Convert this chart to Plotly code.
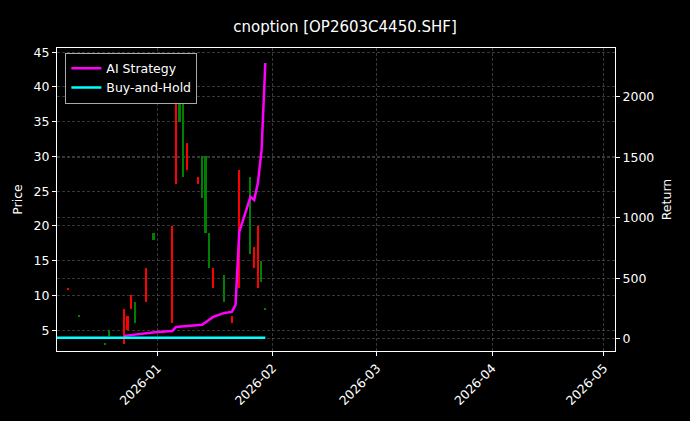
import plotly.graph_objects as go

# Price candles (low/high ranges)
candle_dates = ["2025-12-08","2025-12-11","2025-12-18","2025-12-19","2025-12-23","2025-12-24","2025-12-25",
                "2025-12-26","2025-12-29","2025-12-31","2026-01-05","2026-01-06","2026-01-07","2026-01-08",
                "2026-01-09","2026-01-12","2026-01-13","2026-01-14","2026-01-15","2026-01-16","2026-01-19",
                "2026-01-21","2026-01-23","2026-01-26","2026-01-27","2026-01-28","2026-01-29","2026-01-30"]
candle_low  = [10.9, 6.9, 2.9, 4.2, 3.0, 5.0, 8.0, 6.0, 9.0, 18.0, 6.0, 26.0, 35.0, 27.0,
               28.0, 26.0, 24.0, 19.0, 14.0, 11.0, 9.0, 6.0, 11.0, 16.0, 14.0, 11.0, 12.0, 7.9]
candle_high = [11.1, 7.1, 3.1, 5.0, 8.0, 7.0, 10.0, 9.0, 14.0, 19.0, 20.0, 42.0, 38.0, 38.5,
               32.0, 27.0, 30.0, 30.0, 19.0, 14.0, 13.0, 7.0, 28.0, 27.0, 17.0, 20.0, 15.0, 8.1]
candle_up   = [True, False, False, False, True, True, True, False, True, False, True, True, False, False,
               True, True, False, False, False, True, False, True, True, False, True, True, False, False]

# Strategy returns
ai_dates = ["2025-12-23","2025-12-29","2026-01-01","2026-01-05","2026-01-06","2026-01-09","2026-01-13",
            "2026-01-16","2026-01-19","2026-01-21","2026-01-22","2026-01-23","2026-01-26","2026-01-27",
            "2026-01-28","2026-01-29","2026-01-30"]
ai_return = [25, 50, 58, 66, 99, 107, 116, 182, 215, 223, 281, 884, 1174, 1149, 1289, 1562, 2281]
bh_dates = ["2025-12-05", "2026-01-30"]
bh_return = [10, 10]

DAY = 86400000
fig = go.Figure()
fig.add_trace(go.Bar(
    x=candle_dates, base=candle_low,
    y=[h - l for h, l in zip(candle_high, candle_low)],
    width=[0.45 * DAY] * len(candle_dates),
    marker=dict(color=["#ff0000" if u else "#008000" for u in candle_up], line_width=0),
    showlegend=False, yaxis="y"))
fig.add_trace(go.Scatter(x=ai_dates, y=ai_return, mode="lines", name="AI Strategy",
                         line=dict(color="#ff00ff", width=2.5), yaxis="y2"))
fig.add_trace(go.Scatter(x=bh_dates, y=bh_return, mode="lines", name="Buy-and-Hold",
                         line=dict(color="#00ffff", width=2.5), yaxis="y2"))

grid = dict(showgrid=True, gridcolor="rgba(110,110,110,0.5)", griddash="3px,2px", gridwidth=0.5)
fig.update_layout(
    width=690, height=421, paper_bgcolor="black", plot_bgcolor="black",
    font=dict(family="DejaVu Sans", color="white", size=12.5),
    title=dict(text="cnoption [OP2603C4450.SHF]", x=0.5, xanchor="center", y=0.95,
               font=dict(size=15)),
    margin=dict(l=57, r=75, t=48, b=70, autoexpand=False),
    bargap=0,
    xaxis=dict(type="date", range=["2025-12-05", "2026-05-04"], tickformat="%Y-%m",
               dtick="M1", tick0="2026-01-01", tickangle=-45, ticks="outside", ticklen=4,
               tickcolor="white", showline=True, linecolor="white", mirror=True, zeroline=False,
               automargin=False, **grid),
    yaxis=dict(title=dict(text="Price", standoff=8, font=dict(size=12.5)), range=[2.0, 45.6],
               dtick=5, tick0=0, ticks="outside", ticklen=4, tickcolor="white", showline=True,
               linecolor="white", mirror=True, zeroline=False, automargin=False, **grid),
    yaxis2=dict(title=dict(text="Return", standoff=8, font=dict(size=12.5)), overlaying="y",
                side="right", range=[-100, 2405], dtick=500, ticks="outside", ticklen=4,
                tickcolor="white", zeroline=False, automargin=False, **grid),
    legend=dict(x=0.015, y=0.985, xanchor="left", yanchor="top", bgcolor="black",
                bordercolor="#aaaaaa", borderwidth=1, font=dict(size=12.5)),
)
fig.write_html("out.html", config={"displayModeBar": False})
with open("out.html", encoding="utf-8") as f:
    html = f.read()
html = html.replace("<head>", "<head><style>body{margin:0;background:black;}</style>", 1)
with open("out.html", "w", encoding="utf-8") as f:
    f.write(html)
